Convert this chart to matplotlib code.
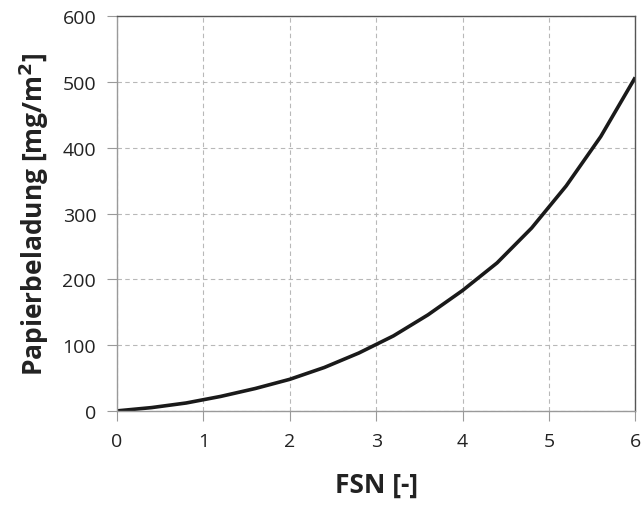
import matplotlib
matplotlib.use("Agg")
import matplotlib.pyplot as plt

# FSN vs. paper loading
fsn = [0.0, 0.4, 0.8, 1.2, 1.6, 2.0, 2.4, 2.8, 3.2, 3.6, 4.0, 4.4, 4.8, 5.2, 5.6, 6.0]
beladung = [0, 5, 12, 22, 34, 48, 66, 88, 114, 146, 183, 225, 278, 342, 417, 507]

x_ticks = [0, 1, 2, 3, 4, 5, 6]
y_ticks = [0, 100, 200, 300, 400, 500, 600]

plt.rcParams['font.family'] = ['Open Sans', 'DejaVu Sans']

fig = plt.figure(figsize=(6.43, 5.06), dpi=100)
ax = fig.add_axes([0.182, 0.186, 0.806, 0.780])

ax.plot(fsn, beladung, color='#1a1a1a', linewidth=2.6, solid_capstyle='butt')

ax.set_xlim(0, 6)
ax.set_ylim(0, 600)
ax.set_xticks(x_ticks)
ax.set_yticks(y_ticks)

ax.grid(True, color='#b8b8b8', linestyle=(0, (4, 3)), linewidth=0.8)
ax.set_axisbelow(True)

ax.spines['left'].set_color('#9a9a9a')
ax.spines['bottom'].set_color('#9a9a9a')
ax.spines['top'].set_color('#555555')
ax.spines['right'].set_color('#555555')
for s in ax.spines.values():
    s.set_linewidth(1.0)

ax.tick_params(axis='both', direction='out', length=7, width=0.8, color='#9a9a9a',
               labelsize=14, labelcolor='#222222', pad=8)

ax.set_xlabel("FSN [-]", fontsize=19, fontweight='bold', color='#222222', labelpad=15)
ax.set_ylabel("Papierbeladung [mg/m$^\\mathbf{2}$]", fontsize=19, fontweight='bold',
              color='#222222', labelpad=8)

fig.savefig("out.png", dpi=100)
